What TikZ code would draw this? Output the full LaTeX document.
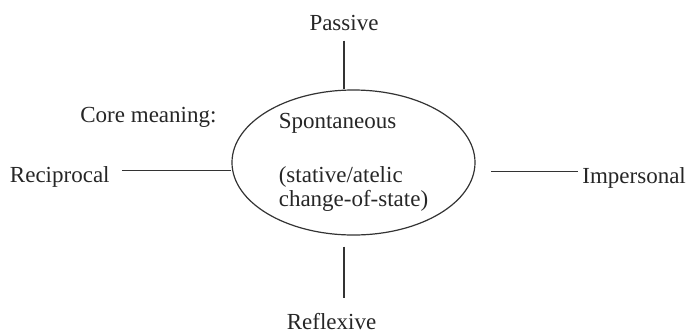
\documentclass[tikz,border=0pt]{standalone}
\usepackage{fontspec}
\setmainfont{Liberation Serif}
\usetikzlibrary{shapes.geometric}
\begin{document}
\begin{tikzpicture}[
        x=0.5pt, y=-0.5pt,
        every node/.style={text=black!85, font=\fontsize{11.5}{12}\selectfont, inner sep=2pt},
        core/.style={draw=black!80, line width=0.6pt, ellipse, inner sep=0pt,
            minimum width=121.5pt, minimum height=72.5pt, align=left},
        spoke/.style={draw=black!80, line width=0.6pt},
    ]
    \useasboundingbox (0,0) rectangle (693,334);
    \node[core](core) at (353.5,162.5){Spontaneous\\[15pt](stative/atelic\\change-of-state)};
    \node[anchor=base west](coremeaning) at (76,122){Core meaning:};
    \node[anchor=base](passive) at (344,30){Passive};
    \node[anchor=base, inner sep=1pt](reflexive) at (331.5,329){Reflexive};
    \node[anchor=base east](reciprocal) at (114,182){Reciprocal};
    \node[anchor=base west](impersonal) at (578,183){Impersonal};
    % spokes
    \draw[spoke, shorten <=3pt] (passive.south) -- (passive.south |- core.north);
    \draw[spoke, shorten <=5.5pt, shorten >=6pt] (core.south -| passive.south) -- (reflexive.north -| passive.south);
    \draw[spoke, shorten <=4pt] ([yshift=2.8pt]reciprocal.east) -- ([yshift=2.8pt]reciprocal.east -| core.west);
    \draw[spoke, shorten >=7.5pt] ([yshift=2.8pt]impersonal.west) -- ([yshift=2.8pt]impersonal.west -| core.east);
\end{tikzpicture}
\end{document}
